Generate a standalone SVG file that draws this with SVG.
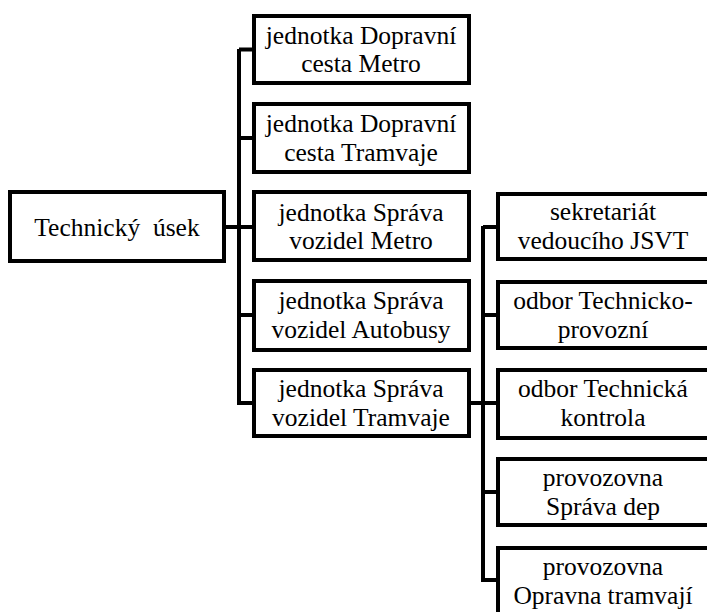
<svg xmlns="http://www.w3.org/2000/svg" width="707" height="612" viewBox="0 0 707 612">
<style>
.box{fill:#fff;stroke:#000;stroke-width:4}
.con{fill:none;stroke:#000;stroke-width:4}
text{font-family:'Liberation Serif','Times New Roman',serif;font-size:25.5px;fill:#000;text-anchor:middle}
</style>
<rect width="707" height="612" fill="#fff"/>
<g id="connectors">
<path class="con" d="M226 227H254M239 49V405M239 49.5H254M239 138H254M239 315H254M239 403H254"/>
<path class="con" d="M469 403H498M483 226V582M483 227H498M483 315H498M483 492H498M483 580H498"/>
</g>
<g id="root"><rect class="box" x="10" y="192" width="214" height="69"/><text x="117" y="236" xml:space="preserve">Technický  úsek</text></g>
<g id="n1"><rect class="box" x="254" y="16" width="215" height="67"/><text x="361" y="43.5">jednotka Dopravní</text><text x="361" y="72">cesta Metro</text></g>
<g id="n2"><rect class="box" x="254" y="104" width="215" height="68"/><text x="361" y="132">jednotka Dopravní</text><text x="361" y="160.5">cesta Tramvaje</text></g>
<g id="n3"><rect class="box" x="254" y="192" width="215" height="68"/><text x="361" y="220.5">jednotka Správa</text><text x="361" y="249">vozidel Metro</text></g>
<g id="n4"><rect class="box" x="254" y="281" width="215" height="69"/><text x="361" y="309">jednotka Správa</text><text x="361" y="337.5">vozidel Autobusy</text></g>
<g id="n5"><rect class="box" x="254" y="370" width="215" height="66"/><text x="361" y="397">jednotka Správa</text><text x="361" y="425.5">vozidel Tramvaje</text></g>
<g id="r1"><rect class="box" x="498" y="194" width="215" height="65"/><text x="603" y="220">sekretariát</text><text x="603" y="248.5">vedoucího JSVT</text></g>
<g id="r2"><rect class="box" x="498" y="282" width="215" height="66"/><text x="603" y="309">odbor Technicko-</text><text x="603" y="337.5">provozní</text></g>
<g id="r3"><rect class="box" x="498" y="370" width="215" height="68"/><text x="603" y="397">odbor Technická</text><text x="603" y="425.5">kontrola</text></g>
<g id="r4"><rect class="box" x="498" y="459" width="215" height="66"/><text x="603" y="486">provozovna</text><text x="603" y="514.5">Správa dep</text></g>
<g id="r5"><rect class="box" x="498" y="548" width="215" height="67"/><text x="603" y="575">provozovna</text><text x="603" y="603.5">Opravna tramvají</text></g>
</svg>
